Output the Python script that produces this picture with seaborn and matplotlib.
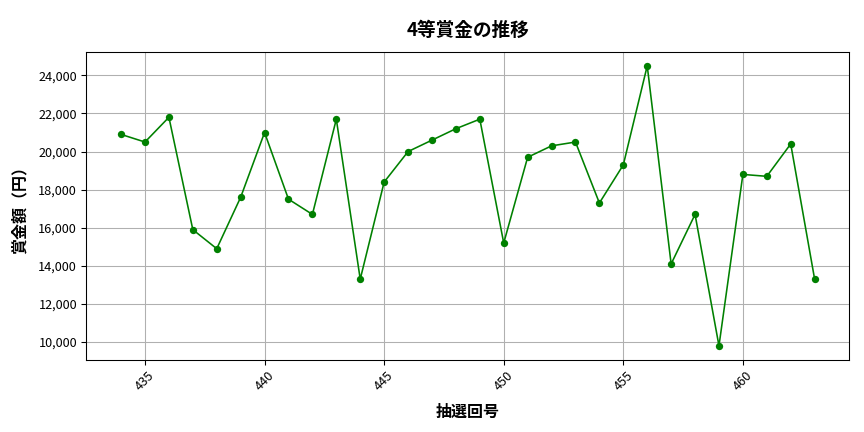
import matplotlib
matplotlib.use("Agg")
from matplotlib import pyplot as plt
from matplotlib.ticker import FuncFormatter
import pandas as pd
import seaborn as sns

# draw numbers 434..463
draws = list(range(434, 464))
prize = [20900, 20500, 21800, 15900, 14900, 17600, 21000, 17500, 16700, 21700,
         13300, 18400, 20000, 20600, 21200, 21700, 15200, 19700, 20300, 20500,
         17300, 19300, 24500, 14100, 16700, 9800, 18800, 18700, 20400, 13300]

df = pd.DataFrame({'draw': draws, 'prize': prize})

sns.set_style('ticks', {'text.color': 'black', 'axes.labelcolor': 'black',
                        'xtick.color': 'black', 'ytick.color': 'black',
                        'axes.edgecolor': 'black'})
plt.rcParams['font.family'] = ['Noto Sans CJK JP', 'DejaVu Sans']

fig, ax = plt.subplots(figsize=(9, 4.5), dpi=96)
sns.lineplot(data=df, x='draw', y='prize', marker='o', color='green',
             markersize=5.5, markeredgewidth=0, linewidth=1.2, ax=ax)

ax.set_title('4等賞金の推移', fontsize=14, fontweight='bold', pad=12)
ax.set_xlabel('抽選回号', fontsize=12, fontweight='bold', labelpad=8)
ax.set_ylabel('賞金額（円）', fontsize=12, fontweight='bold', labelpad=8)
ax.yaxis.set_major_formatter(FuncFormatter(lambda v, p: f'{int(v):,}'))
plt.xticks(rotation=45)
ax.tick_params(labelsize=9.5)
ax.grid(True, color='#b0b0b0', linewidth=0.8)

plt.subplots_adjust(left=0.1, right=0.983, bottom=0.167, top=0.88)
fig.savefig('out.png')
